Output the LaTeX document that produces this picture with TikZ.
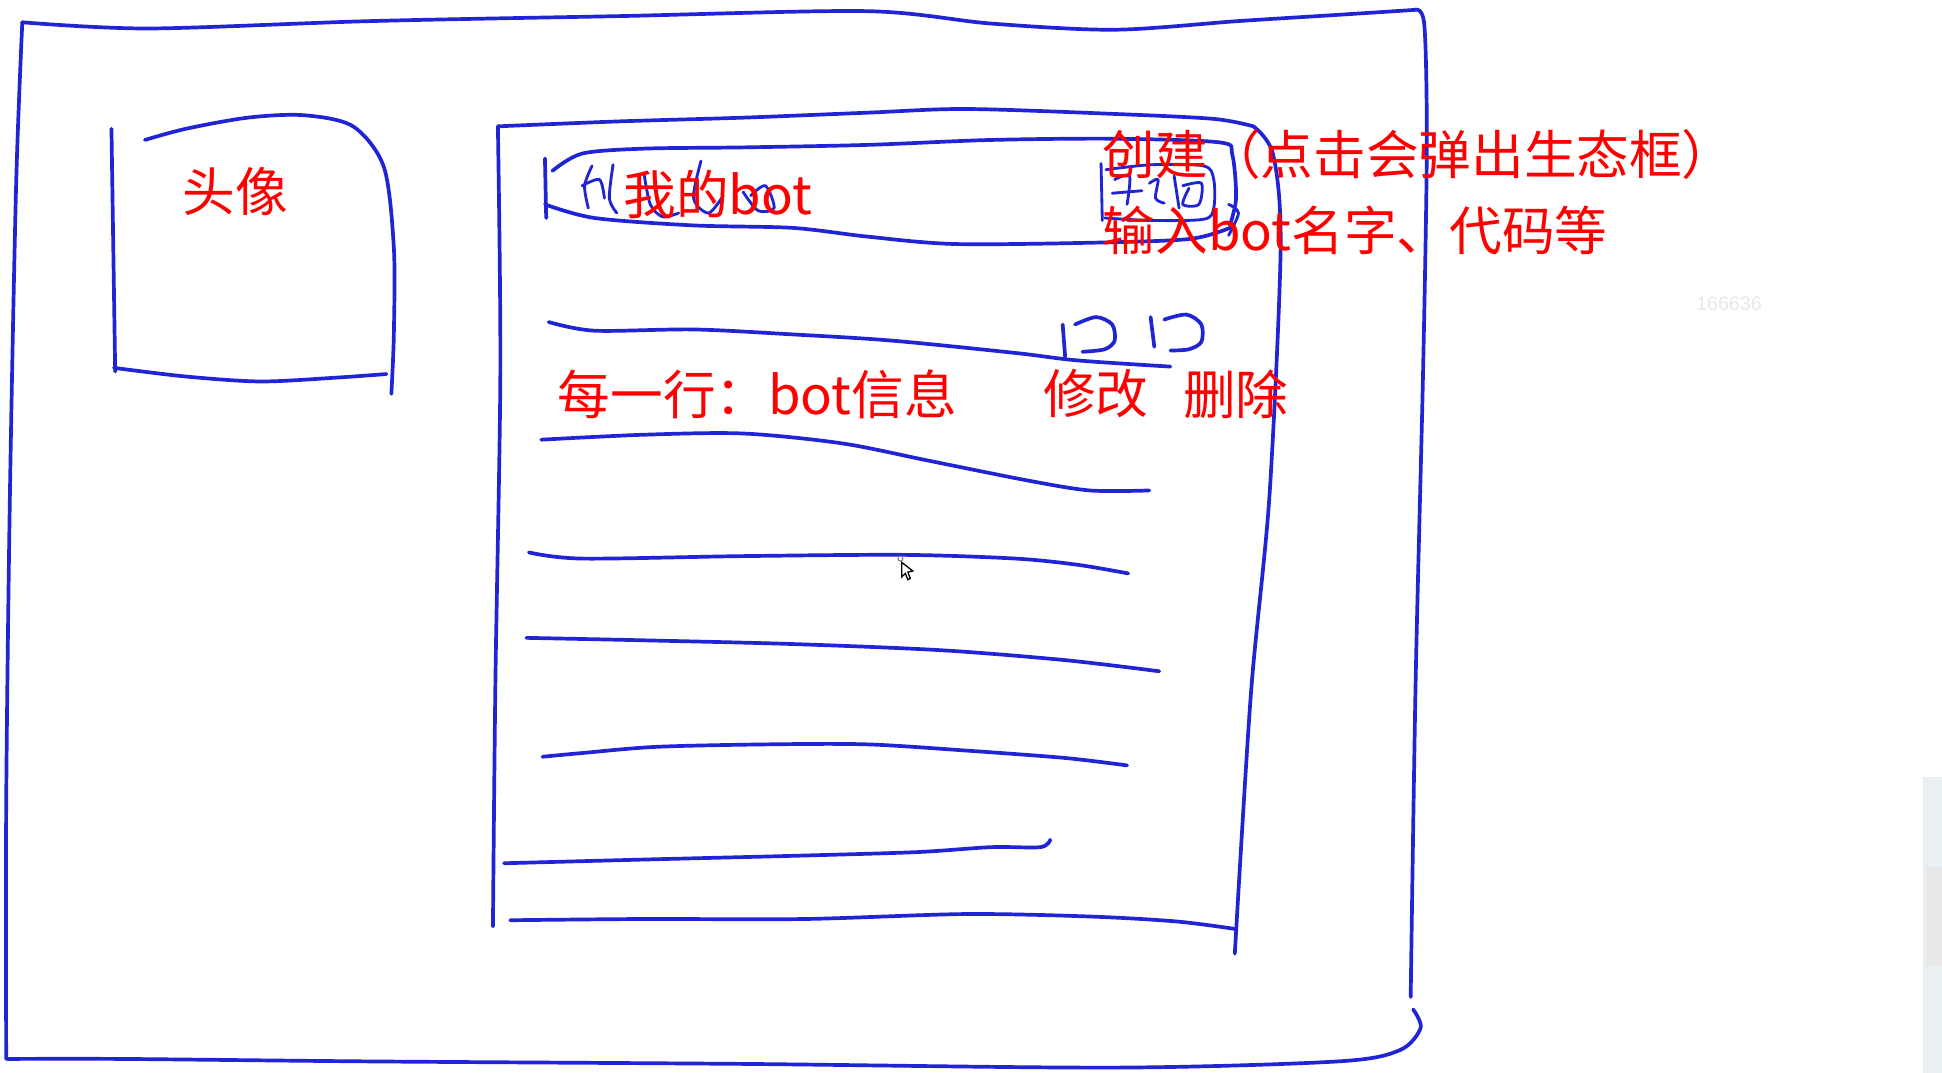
\documentclass[tikz,border=0pt]{standalone}
\usepackage{fontspec}
\newfontfamily\cjk{Noto Sans CJK SC}
\newfontfamily\numfont{Liberation Sans}
\definecolor{pen}{RGB}{32,36,212}
\definecolor{note}{RGB}{255,0,0}
\definecolor{faint}{RGB}{232,232,232}
\definecolor{strip}{RGB}{232,240,244}
\tikzset{
  stroke/.style={draw=pen,line width=1.7pt,line cap=round,line join=round},
  thin stroke/.style={draw=pen,line width=1.3pt,line cap=round,line join=round},
  label/.style={text=note,font=\cjk\fontsize{24.2}{29}\selectfont,inner sep=0pt,anchor=west},
}
\begin{document}
\begin{tikzpicture}[x=0.02cm,y=-0.02cm]
\useasboundingbox (0,0) rectangle (1568,866);
\fill[white] (0,0) rectangle (1568,866);
% scrollbar strip at the right
\fill[strip] (1553,627) rectangle (1568,866);
\fill[faint] (1555,700) rectangle (1568,780);

% outer frame
\draw[stroke] plot[smooth] coordinates {(18,18) (120,23) (300,17) (500,13) (700,9) (800,19) (900,24) (1000,17) (1080,12) (1142,8)};
\draw[stroke] plot[smooth] coordinates {(1142,8) (1150,20) (1152,120) (1149,300) (1143,550) (1139,805)};
\draw[stroke] plot[smooth] coordinates {(1141,815) (1147,830) (1130,848) (1080,857) (900,862) (600,859) (300,857) (100,855) (6,855)};
\draw[stroke] plot[smooth] coordinates {(18,18) (13,150) (8,400) (5,650) (5,855)};

% avatar box
\draw[stroke] (90,104) -- (93,300);
\draw[stroke] plot[smooth] coordinates {(117,113) (150,104) (200,95) (245,93) (285,102) (310,135) (318,200) (318,270) (316,318)};
\draw[stroke] plot[smooth] coordinates {(92,297) (150,304) (210,308) (270,305) (312,302)};

% main panel
\draw[stroke] plot[smooth] coordinates {(402,102) (500,98) (600,95) (700,91) (780,88) (900,92) (980,96) (1012,102)};
\draw[stroke] plot[smooth] coordinates {(402,102) (404,300) (400,550) (398,748)};
\draw[stroke] plot[smooth] coordinates {(1012,102) (1028,125) (1034,200) (1025,400) (1010,560) (997,770)};
\draw[stroke] plot[smooth] coordinates {(412,743) (520,742) (650,742) (780,738) (880,740) (950,744) (997,750)};

% header pill
\draw[stroke] (440,128) -- (441,176);
\draw[stroke] plot[smooth] coordinates {(446,138) (470,124) (520,120) (600,119) (700,117) (800,113) (900,112) (985,115) (995,125) (998,160) (993,182)};
\draw[stroke] plot[smooth] coordinates {(440,165) (480,176) (560,182) (640,184) (700,191) (770,197) (880,196) (960,193) (993,184)};
% handwritten scribble under the label
\draw[thin stroke] plot[smooth] coordinates {(478,134) (472,150) (475,168)};
\draw[thin stroke] plot[smooth] coordinates {(470,150) (484,145) (488,160)};
\draw[thin stroke] plot[smooth] coordinates {(495,133) (492,160) (498,172)};
\draw[thin stroke] plot[smooth] coordinates {(520,140) (525,165) (535,175) (548,172)};
\draw[thin stroke] plot[smooth] coordinates {(566,130) (560,160) (572,172) (584,158)};
\draw[thin stroke] plot[smooth] coordinates {(600,155) (612,170) (625,168) (618,150) (606,158)};

% create button
\draw[thin stroke] (889,132) -- (890,178);
\draw[thin stroke] plot[smooth] coordinates {(893,137) (930,133) (972,134) (980,145) (980,168) (972,177) (930,178) (892,176)};
\draw[thin stroke] plot[smooth] coordinates {(900,145) (912,142) (910,165)};
\draw[thin stroke] (898,156) -- (922,154);
\draw[thin stroke] plot[smooth] coordinates {(928,148) (935,145) (933,160) (940,164)};
\draw[thin stroke] plot[smooth] coordinates {(948,142) (952,168)};
\draw[thin stroke] plot[smooth] coordinates {(955,150) (970,148) (968,165) (955,165) (960,152)};
\draw[thin stroke] plot[smooth] coordinates {(992,165) (1000,172) (992,190)};

% edit / delete icons
\draw[stroke] (858,262) -- (860,288);
\draw[stroke] plot[smooth] coordinates {(868,262) (885,256) (898,262) (900,275) (892,282) (874,284)};
\draw[stroke] (929,256) -- (932,280);
\draw[stroke] plot[smooth] coordinates {(940,258) (958,254) (970,262) (970,276) (960,282) (945,283)};

% list rows
\draw[stroke] plot[smooth] coordinates {(443,260) (480,267) (560,266) (640,270) (720,275) (820,285) (870,291) (945,296)};
\draw[stroke] plot[smooth] coordinates {(437,355) (520,351) (600,350) (680,358) (750,372) (830,388) (880,396) (928,396)};
\draw[stroke] plot[smooth] coordinates {(427,446) (470,451) (600,449) (730,448) (820,451) (870,456) (911,463)};
\draw[stroke] plot[smooth] coordinates {(425,515) (520,517) (640,520) (760,525) (860,533) (936,542)};
\draw[stroke] plot[smooth] coordinates {(438,611) (470,608) (530,603) (620,601) (700,601) (780,606) (860,612) (910,618)};
\draw[stroke] plot[smooth] coordinates {(407,697) (520,694) (640,691) (740,688) (800,684) (840,684) (848,678)};

% mouse cursor
\draw[gray,line width=0.5pt] (727,451) circle (2);
\filldraw[fill=white,draw=black,line width=0.6pt] (728,454) -- (728,466) -- (731,463) -- (733,468) -- (735,467) -- (733,462) -- (737,461) -- cycle;

% labels
\node[label] (avatar) at (147,155) {头像};
\node[label] (mybot) at (503,157) {我的bot};
\node[label] (create) at (890,125) {创建（点击会弹出生态框）};
\node[label] (input) at (890,186) {输入bot名字、代码等};
\node[label] (row) at (450,318) {每一行：bot信息};
\node[label] (edit) at (842,318) {修改};
\node[label] (delete) at (955,318) {删除};
\node[text=faint,font=\numfont\fontsize{9}{10}\selectfont,inner sep=0pt] (num) at (1396,245) {166636};
\end{tikzpicture}
\end{document}
